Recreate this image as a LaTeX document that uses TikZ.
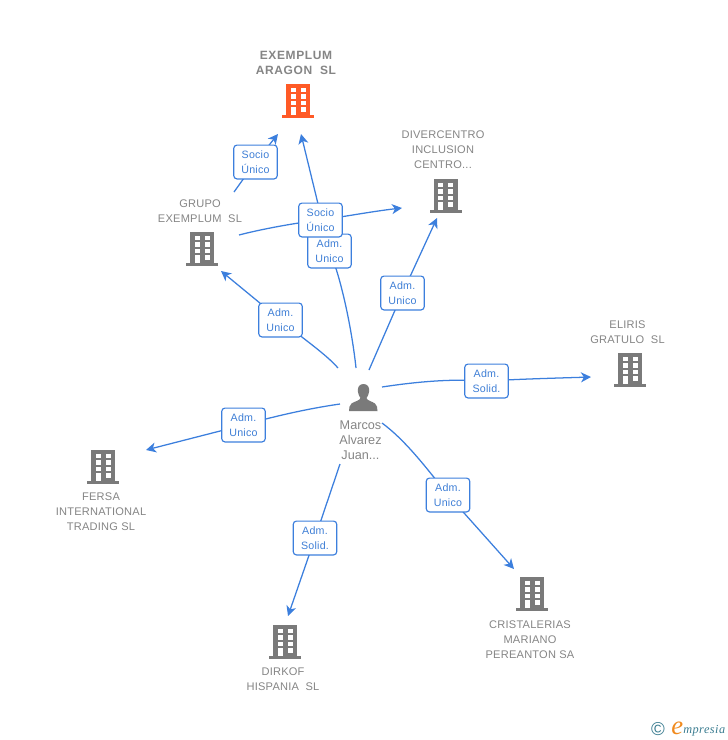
\documentclass[tikz,border=0pt]{standalone}
\usepackage{fontspec}
\setmainfont{Liberation Sans}
\newfontfamily\logofont{Liberation Serif}
\usetikzlibrary{arrows.meta,backgrounds}
\definecolor{linkblue}{HTML}{3C7FDD}
\definecolor{boxtext}{HTML}{3F7FD6}
\definecolor{iconhot}{HTML}{FF5A26}
\definecolor{icongrey}{HTML}{7A7A7A}
\definecolor{labelgrey}{HTML}{858585}
\definecolor{logoteal}{HTML}{3A7C90}
\definecolor{logoorange}{HTML}{F08A1E}
\tikzset{
  x=0.75pt,y=-0.75pt,
  link/.style={draw=linkblue,line width=0.95pt},
  arrowlink/.style={link,-{Stealth[length=7.5pt,width=7.5pt,inset=2.2pt]}},
  tagbox/.style={draw=linkblue,line width=0.85pt,fill=white,rounded corners=2.4pt,minimum width=32.6pt,minimum height=25.4pt,inner sep=0pt,align=center,text=boxtext,font=\fontsize{8pt}{11.2pt}\selectfont\addfontfeature{LetterSpace=2}},
  coname/.style={align=center,inner sep=0pt,text=labelgrey,font=\fontsize{8.3pt}{11.2pt}\selectfont\addfontfeature{LetterSpace=2}},
  hotname/.style={align=center,inner sep=0pt,text=labelgrey,font=\fontsize{9pt}{11.2pt}\selectfont\bfseries\addfontfeature{LetterSpace=5}},
  personname/.style={align=center,inner sep=0pt,text=labelgrey,font=\fontsize{9.5pt}{11.2pt}\selectfont},
  bldg/.pic={
    \fill[pic actions] (-12,-34) rectangle (12,-3);
    \fill[pic actions] (-16,-3) rectangle (16,0);
    \foreach \yy in {-30.5,-24,-17.5}{
      \fill[white] (-7.5,\yy) rectangle (-2.5,\yy+4.5);
      \fill[white] (2.5,\yy) rectangle (7.5,\yy+4.5);
    }
    \fill[white] (-7.5,-11) rectangle (-2.5,-3);
    \fill[white] (2.5,-11) rectangle (7.5,-6.5);
  }
}
\begin{document}
\begin{tikzpicture}
\useasboundingbox (0,0) rectangle (728,740);

% buildings
\pic[fill=iconhot] (bExemplum) at (298,118) {bldg};
\pic[fill=icongrey] (bDiver) at (445.5,213) {bldg};
\pic[fill=icongrey] (bGrupo) at (202,266) {bldg};
\pic[fill=icongrey] (bEliris) at (630,387) {bldg};
\pic[fill=icongrey] (bFersa) at (103,484) {bldg};
\pic[fill=icongrey] (bCrist) at (532,611) {bldg};
\pic[fill=icongrey] (bDirkof) at (285,659) {bldg};

% person
\fill[icongrey] (363.5,384) .. controls (359.5,384) and (357.6,387) .. (357.8,391)
  .. controls (358,394) and (359.4,396.5) .. (360.4,398)
  .. controls (360.4,400.5) and (354,401.5) .. (351.5,403.5)
  .. controls (349.5,405) and (349,408) .. (349,411) -- (377.5,411)
  .. controls (377.5,408) and (377,405) .. (375,403.5)
  .. controls (372.5,401.5) and (366.6,400.5) .. (366.6,398)
  .. controls (367.6,396.5) and (369,394) .. (369.2,391)
  .. controls (369.4,387) and (367.5,384) .. (363.5,384) -- cycle;

% names
\node[hotname] (nExemplum) at (296,62.5) {EXEMPLUM\\ARAGON\ \ SL};
\node[coname] (nDiver) at (443,149.5) {DIVERCENTRO\\INCLUSION\\CENTRO...};
\node[coname] (nGrupo) at (200,211.5) {GRUPO\\EXEMPLUM\ \ SL};
\node[coname] (nEliris) at (627.5,332.5) {ELIRIS\\GRATULO\ \ SL};
\node[coname] (nFersa) at (101,511.5) {FERSA\\INTERNATIONAL\\TRADING SL};
\node[coname] (nCrist) at (530,639.5) {CRISTALERIAS\\MARIANO\\PEREANTON SA};
\node[coname] (nDirkof) at (283,679) {DIRKOF\\HISPANIA\ \ SL};
\node[personname] (nPerson) at (360.5,440) {Marcos\\Alvarez\\Juan...};

% free ends of the connectors
\coordinate (gA) at (234,192);
\coordinate (eA) at (278,134);
\coordinate (gB) at (239,235);
\coordinate (dB) at (402,208);
\coordinate (eB) at (301,134);
\coordinate (pE) at (356,368);
\coordinate (pG) at (338,368);
\coordinate (gC) at (221,271);
\coordinate (pD) at (369,370);
\coordinate (dD) at (437,218);
\coordinate (pL) at (382,387);
\coordinate (lL) at (591,377);
\coordinate (pF) at (340,404);
\coordinate (fF) at (146,450);
\coordinate (pK) at (340,464);
\coordinate (kK) at (288,616);
\coordinate (pC) at (382,423);
\coordinate (cC) at (514,569);

% tags
\node[tagbox] (tAdmE) at (329.5,251) {Adm.\\Unico};
\node[tagbox] (tSocA) at (255.5,162) {Socio\\Único};
\node[tagbox] (tSocB) at (320.5,220) {Socio\\Único};
\node[tagbox] (tAdmG) at (280.5,320) {Adm.\\Unico};
\node[tagbox] (tAdmD) at (402.5,293) {Adm.\\Unico};
\node[tagbox] (tSolL) at (486.5,381) {Adm.\\Solid.};
\node[tagbox] (tAdmF) at (243.5,425) {Adm.\\Unico};
\node[tagbox] (tSolK) at (315,538) {Adm.\\Solid.};
\node[tagbox] (tAdmC) at (448,495) {Adm.\\Unico};

% connectors, under the tags
\begin{scope}[on background layer]
\draw[link] (gA) -- (tSocA.center);
\draw[arrowlink] (tSocA.center) -- (eA);
\draw[link] (gB) .. controls (262,229) and (295,223) .. (tSocB.center);
\draw[arrowlink] (tSocB.center) .. controls (345,216.5) and (375,211) .. (dB);
\draw[link] (pE) .. controls (352,330) and (341,277) .. (tAdmE.center);
\draw[arrowlink] (tAdmE.center) -- (eB);
\draw[link] (pG) .. controls (326,354) and (300,336.4) .. (tAdmG.center);
\draw[arrowlink] (tAdmG.center) -- (gC);
\draw[link] (pD) -- (tAdmD.center);
\draw[arrowlink] (tAdmD.center) -- (dD);
\draw[link] (pL) .. controls (415,382) and (450,378.5) .. (tSolL.center);
\draw[arrowlink] (tSolL.center) .. controls (520,379) and (560,378) .. (lL);
\draw[link] (pF) .. controls (305,409) and (270,417.5) .. (tAdmF.center);
\draw[arrowlink] (tAdmF.center) -- (fF);
\draw[link] (pK) -- (tSolK.center);
\draw[arrowlink] (tSolK.center) -- (kK);
\draw[link] (pC) .. controls (405,440) and (425,466) .. (tAdmC.center);
\draw[arrowlink] (tAdmC.center) -- (cC);
\end{scope}

% logo
\node[inner sep=0pt,text=logoteal,font=\fontsize{14pt}{14pt}\selectfont] (logoC) at (658,729) {©};
\node[inner sep=0pt,anchor=base west,text=logoorange,font=\logofont\itshape\fontsize{20pt}{20pt}\selectfont] (logoE) at (671,734) {e};
\node[inner sep=0pt,anchor=base west,text=logoteal,font=\logofont\itshape\fontsize{9.2pt}{10pt}\selectfont\addfontfeature{LetterSpace=4}] (logoT) at (683,733) {mpresia};
\end{tikzpicture}
\end{document}
